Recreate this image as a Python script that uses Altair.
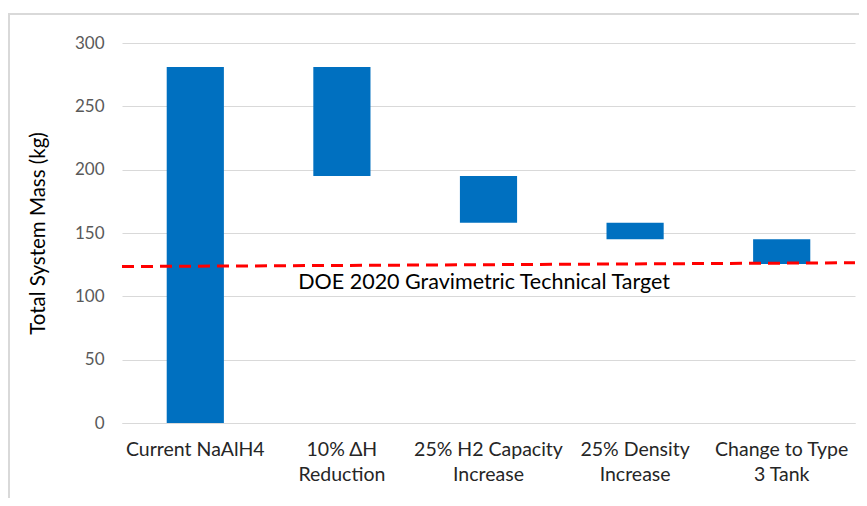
import altair as alt
import pandas as pd

categories = ["Current NaAlH4", "10% ΔH\nReduction", "25% H2 Capacity\nIncrease",
              "25% Density\nIncrease", "Change to Type\n3 Tank"]
bar_low = [0, 195, 158, 145, 125.5]
bar_high = [281, 281, 195, 158, 145]

target_pos = [0.0, 1.0]
target_mass = [123.5, 126.5]
target_label = "DOE 2020  Gravimetric Technical Target"

y_ticks = [0, 50, 100, 150, 200, 250, 300]

FONT = "Lato"

bars_df = pd.DataFrame({"cat": categories, "low": bar_low, "high": bar_high})
line_df = pd.DataFrame({"t": target_pos, "v": target_mass})
text_df = pd.DataFrame({"t": [0.494], "v": [110.5], "label": [target_label]})

yscale = alt.Scale(domain=[0, 300], nice=False)

bars = alt.Chart(bars_df).mark_bar(color="#0070C0").encode(
    x=alt.X("cat:N", sort=categories,
            scale=alt.Scale(paddingInner=0.61, paddingOuter=0.305),
            axis=alt.Axis(title=None, labelAngle=0, labelExpr="split(datum.label, '\\n')",
                          labelFont=FONT, labelFontSize=19.5, labelColor="#262626",
                          labelPadding=17, labelLineHeight=25, ticks=False,
                          domainColor="#d9d9d9", labelBaseline="top")),
    y=alt.Y("low:Q", scale=yscale,
            axis=alt.Axis(title="Total System Mass (kg)", values=y_ticks,
                          titleFont=FONT, titleFontSize=20.5, titleFontWeight="normal",
                          titleColor="#000000", titlePadding=26,
                          labelFont=FONT, labelFontSize=17, labelColor="#595959",
                          labelPadding=18, ticks=False, domain=False,
                          grid=True, gridColor="#d9d9d9")),
    y2="high:Q",
)

xq = alt.Scale(domain=[0, 1], nice=False, zero=False)

line = alt.Chart(line_df).mark_line(color="#FF0000", strokeWidth=3, strokeDash=[12, 7]).encode(
    x=alt.X("t:Q", scale=xq, axis=None),
    y=alt.Y("v:Q", scale=yscale),
)

text = alt.Chart(text_df).mark_text(font=FONT, fontSize=21.5, color="#000000",
                                    baseline="middle", align="center").encode(
    x=alt.X("t:Q", scale=xq, axis=None),
    y=alt.Y("v:Q", scale=yscale),
    text="label:N",
)

frame = alt.Chart(pd.DataFrame({"a": [0]})).mark_rect(
    fill=None, stroke="#d9d9d9", strokeWidth=2).encode(
    x=alt.value(-113), x2=alt.value(745), y=alt.value(-29), y2=alt.value(495)
)

chart = alt.layer(bars, line, text, frame).resolve_scale(x="independent").properties(
    width=733, height=380,
    autosize=alt.AutoSizeParams(type="none"),
    padding={"left": 114, "top": 35, "right": 4, "bottom": 75},
).configure_view(stroke=None)

chart.save("out.html", embed_options={"renderer": "svg", "actions": False})
